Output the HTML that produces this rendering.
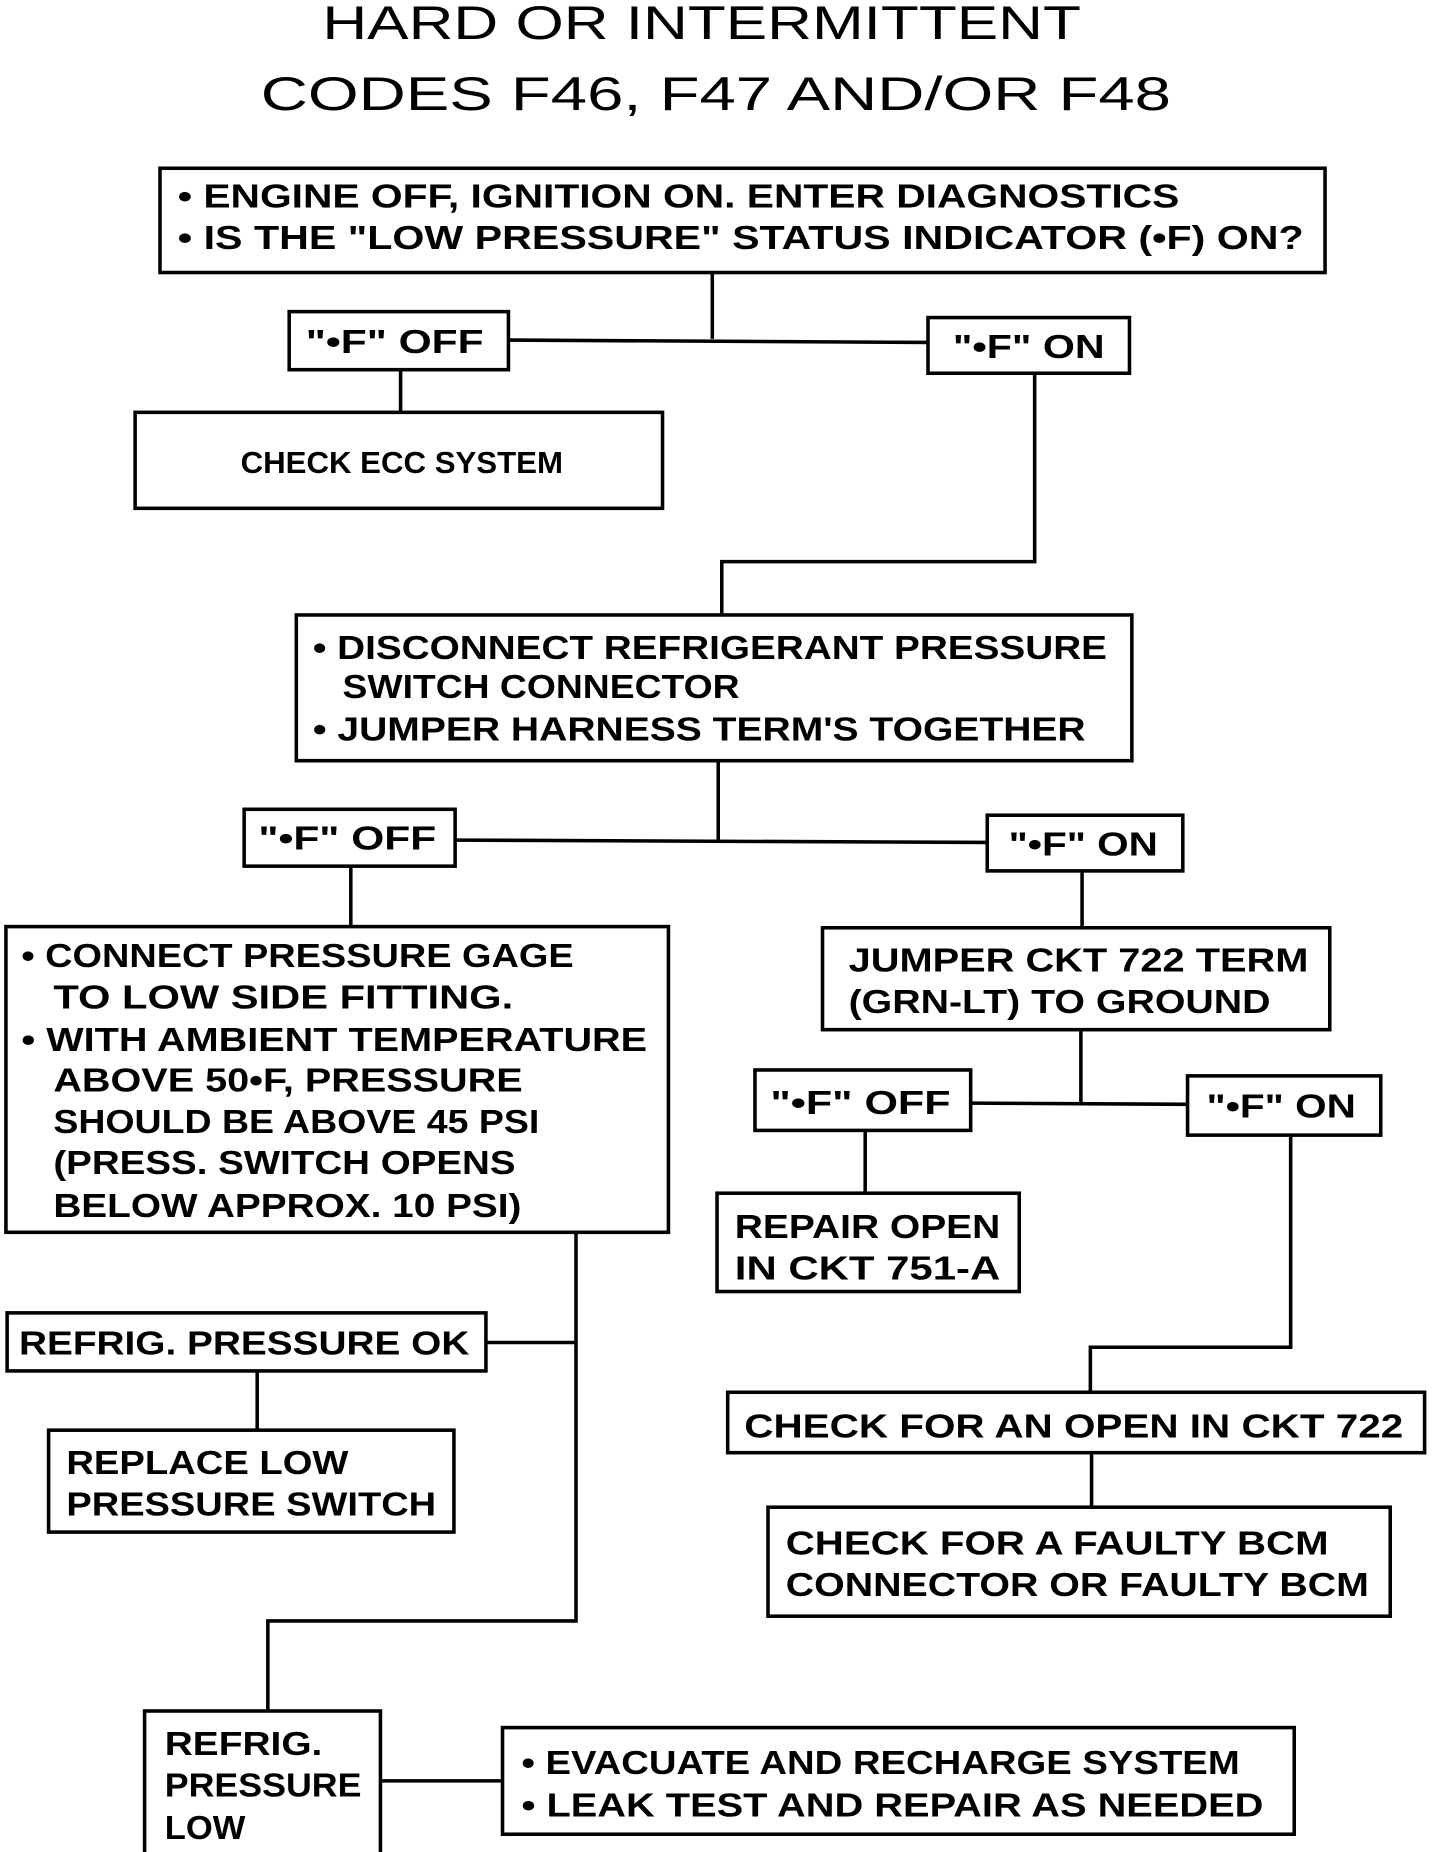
<!DOCTYPE html>
<html><head><meta charset="utf-8"><style>html,body{margin:0;padding:0;background:#fff}svg{display:block}</style></head>
<body>
<svg width="1440" height="1852" viewBox="0 0 1215 1563" preserveAspectRatio="none" xmlns="http://www.w3.org/2000/svg">
<g fill="none" stroke="#000" stroke-width="3">
<rect x="135" y="142" width="983" height="88"/>
<rect x="244" y="263" width="185" height="49"/>
<rect x="783" y="268" width="170" height="47"/>
<rect x="114" y="348" width="445" height="81"/>
<rect x="250" y="519" width="705" height="123"/>
<rect x="206" y="683" width="178" height="48"/>
<rect x="833" y="688" width="165" height="47"/>
<rect x="5" y="782" width="559" height="258"/>
<rect x="694" y="783" width="428" height="86"/>
<rect x="637" y="903" width="182" height="51"/>
<rect x="1002" y="908" width="163" height="50"/>
<rect x="605" y="1007" width="255" height="83"/>
<rect x="614" y="1175" width="588" height="51"/>
<rect x="648" y="1272" width="525" height="92"/>
<rect x="6" y="1108" width="404" height="49"/>
<rect x="41" y="1207" width="342" height="86"/>
<rect x="122" y="1444" width="199" height="121"/>
<rect x="424" y="1458" width="668" height="90"/>
<polyline points="601,230 601,286"/>
<polyline points="429,287 783,289"/>
<polyline points="338,312 338,348"/>
<polyline points="873,315 873,474 609,474 609,519"/>
<polyline points="606,642 606,709"/>
<polyline points="384,709 833,711"/>
<polyline points="296,731 296,782"/>
<polyline points="913,735 913,783"/>
<polyline points="912,869 912,931"/>
<polyline points="819,931 1002,932"/>
<polyline points="730,954 730,1007"/>
<polyline points="1089,958 1089,1137 920,1137 920,1175"/>
<polyline points="921,1226 921,1272"/>
<polyline points="486,1040 486,1368 226,1368 226,1444"/>
<polyline points="410,1133 486,1133"/>
<polyline points="217,1157 217,1207"/>
<polyline points="321,1503 424,1503"/>
</g>
<g font-family="Liberation Sans, sans-serif" font-weight="bold" font-size="28" fill="#000" lengthAdjust="spacingAndGlyphs">
<text x="272" y="33" font-size="40" font-weight="normal" textLength="640" lengthAdjust="spacingAndGlyphs">HARD OR INTERMITTENT</text>
<text x="220" y="93" font-size="40" font-weight="normal" textLength="768" lengthAdjust="spacingAndGlyphs">CODES F46, F47 AND/OR F48</text>
<text x="150" y="175" textLength="845" lengthAdjust="spacingAndGlyphs">• ENGINE OFF, IGNITION ON. ENTER DIAGNOSTICS</text>
<text x="150" y="210" textLength="950" lengthAdjust="spacingAndGlyphs">• IS THE "LOW PRESSURE" STATUS INDICATOR (•F) ON?</text>
<text x="258" y="298" textLength="150" lengthAdjust="spacingAndGlyphs">"•F" OFF</text>
<text x="804" y="302" textLength="128" lengthAdjust="spacingAndGlyphs">"•F" ON</text>
<text x="203" y="399" font-size="26" textLength="272" lengthAdjust="spacingAndGlyphs">CHECK ECC SYSTEM</text>
<text x="264" y="556" textLength="670" lengthAdjust="spacingAndGlyphs">• DISCONNECT REFRIGERANT PRESSURE</text>
<text x="289" y="589" textLength="335" lengthAdjust="spacingAndGlyphs">SWITCH CONNECTOR</text>
<text x="264" y="625" textLength="652" lengthAdjust="spacingAndGlyphs">• JUMPER HARNESS TERM'S TOGETHER</text>
<text x="218" y="717" textLength="150" lengthAdjust="spacingAndGlyphs">"•F" OFF</text>
<text x="851" y="722" textLength="126" lengthAdjust="spacingAndGlyphs">"•F" ON</text>
<text x="18" y="816" textLength="466" lengthAdjust="spacingAndGlyphs">• CONNECT PRESSURE GAGE</text>
<text x="45" y="851" textLength="388" lengthAdjust="spacingAndGlyphs">TO LOW SIDE FITTING.</text>
<text x="18" y="887" textLength="528" lengthAdjust="spacingAndGlyphs">• WITH AMBIENT TEMPERATURE</text>
<text x="45" y="921" textLength="396" lengthAdjust="spacingAndGlyphs">ABOVE 50•F, PRESSURE</text>
<text x="45" y="956" textLength="410" lengthAdjust="spacingAndGlyphs">SHOULD BE ABOVE 45 PSI</text>
<text x="45" y="991" textLength="390" lengthAdjust="spacingAndGlyphs">(PRESS. SWITCH OPENS</text>
<text x="45" y="1027" textLength="395" lengthAdjust="spacingAndGlyphs">BELOW APPROX. 10 PSI)</text>
<text x="716" y="820" textLength="388" lengthAdjust="spacingAndGlyphs">JUMPER CKT 722 TERM</text>
<text x="716" y="855" textLength="356" lengthAdjust="spacingAndGlyphs">(GRN-LT) TO GROUND</text>
<text x="650" y="940" textLength="152" lengthAdjust="spacingAndGlyphs">"•F" OFF</text>
<text x="1018" y="943" textLength="126" lengthAdjust="spacingAndGlyphs">"•F" ON</text>
<text x="620" y="1045" textLength="224" lengthAdjust="spacingAndGlyphs">REPAIR OPEN</text>
<text x="620" y="1080" textLength="224" lengthAdjust="spacingAndGlyphs">IN CKT 751-A</text>
<text x="628" y="1213" textLength="556" lengthAdjust="spacingAndGlyphs">CHECK FOR AN OPEN IN CKT 722</text>
<text x="663" y="1312" textLength="458" lengthAdjust="spacingAndGlyphs">CHECK FOR A FAULTY BCM</text>
<text x="663" y="1347" textLength="492" lengthAdjust="spacingAndGlyphs">CONNECTOR OR FAULTY BCM</text>
<text x="16" y="1143" textLength="380" lengthAdjust="spacingAndGlyphs">REFRIG. PRESSURE OK</text>
<text x="56" y="1244" textLength="238" lengthAdjust="spacingAndGlyphs">REPLACE LOW</text>
<text x="56" y="1279" textLength="312" lengthAdjust="spacingAndGlyphs">PRESSURE SWITCH</text>
<text x="139" y="1481" textLength="133" lengthAdjust="spacingAndGlyphs">REFRIG.</text>
<text x="139" y="1516" textLength="166" lengthAdjust="spacingAndGlyphs">PRESSURE</text>
<text x="139" y="1552" textLength="68" lengthAdjust="spacingAndGlyphs">LOW</text>
<text x="440" y="1497" textLength="606" lengthAdjust="spacingAndGlyphs">• EVACUATE AND RECHARGE SYSTEM</text>
<text x="440" y="1533" textLength="626" lengthAdjust="spacingAndGlyphs">• LEAK TEST AND REPAIR AS NEEDED</text>
</g>
</svg>
</body></html>
